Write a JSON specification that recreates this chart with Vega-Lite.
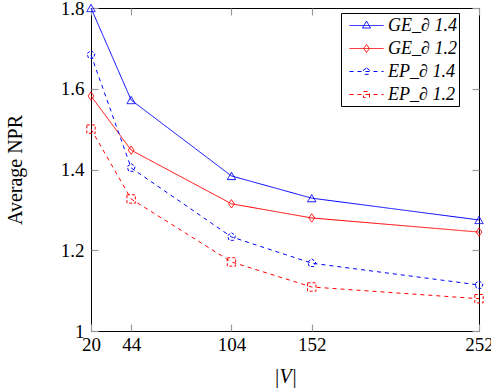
{
  "$schema": "https://vega.github.io/schema/vega-lite/v6.json",
  "width": 388,
  "height": 323,
  "autosize": {"type": "none"},
  "padding": {"left": 91, "top": 8, "right": 12, "bottom": 60},
  "background": "white",
  "config": {
    "view": {"stroke": "black", "strokeWidth": 1},
    "font": "Liberation Serif",
    "axis": {
      "grid": false,
      "domain": false,
      "tickColor": "#9a9a9a",
      "tickWidth": 1.2,
      "tickSize": -7,
      "labelFont": "Liberation Serif",
      "labelFontSize": 19,
      "labelColor": "black",
      "titleFont": "Liberation Serif",
      "titleFontSize": 20,
      "titleFontWeight": "normal",
      "titleColor": "black"
    }
  },
  "data": {
    "values": [
      {"V": 20, "npr": 1.8, "s": "GE_∂ 1.4"},
      {"V": 44, "npr": 1.572, "s": "GE_∂ 1.4"},
      {"V": 104, "npr": 1.384, "s": "GE_∂ 1.4"},
      {"V": 152, "npr": 1.329, "s": "GE_∂ 1.4"},
      {"V": 252, "npr": 1.275, "s": "GE_∂ 1.4"},
      {"V": 20, "npr": 1.582, "s": "GE_∂ 1.2"},
      {"V": 44, "npr": 1.448, "s": "GE_∂ 1.2"},
      {"V": 104, "npr": 1.315, "s": "GE_∂ 1.2"},
      {"V": 152, "npr": 1.28, "s": "GE_∂ 1.2"},
      {"V": 252, "npr": 1.245, "s": "GE_∂ 1.2"},
      {"V": 20, "npr": 1.684, "s": "EP_∂ 1.4"},
      {"V": 44, "npr": 1.404, "s": "EP_∂ 1.4"},
      {"V": 104, "npr": 1.233, "s": "EP_∂ 1.4"},
      {"V": 152, "npr": 1.168, "s": "EP_∂ 1.4"},
      {"V": 252, "npr": 1.114, "s": "EP_∂ 1.4"},
      {"V": 20, "npr": 1.5, "s": "EP_∂ 1.2"},
      {"V": 44, "npr": 1.327, "s": "EP_∂ 1.2"},
      {"V": 104, "npr": 1.171, "s": "EP_∂ 1.2"},
      {"V": 152, "npr": 1.109, "s": "EP_∂ 1.2"},
      {"V": 252, "npr": 1.08, "s": "EP_∂ 1.2"}
    ]
  },
  "layer": [
    {
      "mark": {"type": "line", "strokeWidth": 1},
      "encoding": {
        "x": {
          "field": "V", "type": "quantitative",
          "scale": {"domain": [20, 252], "nice": false, "zero": false},
          "axis": {"orient": "bottom", "values": [20, 44, 104, 152, 252], "title": "|V|", "titleFontStyle": "italic", "labelPadding": 11, "titlePadding": 12, "labelFlush": false}
        },
        "y": {
          "field": "npr", "type": "quantitative",
          "scale": {"domain": [1, 1.8], "nice": false, "zero": false},
          "axis": {"orient": "left", "values": [1, 1.2, 1.4, 1.6, 1.8], "format": "~g", "title": "Average NPR", "labelPadding": 14, "titlePadding": 35}
        },
        "color": {
          "field": "s", "type": "nominal",
          "scale": {"domain": ["GE_∂ 1.4", "GE_∂ 1.2", "EP_∂ 1.4", "EP_∂ 1.2"], "range": ["#0000ff", "#ff0000", "#0000ff", "#ff0000"]},
          "legend": {
            "title": null,
            "orient": "none",
            "legendX": 250,
            "legendY": 5,
            "padding": 2,
            "strokeColor": "black",
            "fillColor": "white",
            "symbolSize": 400,
            "symbolStrokeWidth": 1,
            "symbolOffset": 13,
            "labelOffset": 11,
            "rowPadding": 3,
            "labelFont": "Liberation Serif",
            "labelFontSize": 18,
            "labelFontStyle": "italic",
            "labelColor": "black",
            "labelLimit": 300,
            "labelExpr": "datum.label + '   '",
            "encode": {
              "symbols": {
                "update": {
                  "shape": {"signal": "datum.value === 'GE_∂ 1.4' ? 'M-1.7,0H1.7M0,-0.45L0.4,0.25L-0.4,0.25Z' : datum.value === 'GE_∂ 1.2' ? 'M-1.7,0H1.7M0,-0.4L0.28,0L0,0.4L-0.28,0Z' : datum.value === 'EP_∂ 1.4' ? 'M-1.7,0H1.7M0,-0.35L0.333,-0.108L0.206,0.283L-0.206,0.283L-0.333,-0.108Z' : 'M-1.7,0H1.7M-0.3,-0.3H0.3V0.3H-0.3Z'"},
                  "strokeDash": {"signal": "indexof(datum.value, 'EP') === 0 ? [4,4] : [1,0]"},
                  "fill": {"value": "transparent"}
                }
              }
            }
          }
        },
        "strokeDash": {
          "field": "s", "type": "nominal",
          "scale": {"domain": ["GE_∂ 1.4", "GE_∂ 1.2", "EP_∂ 1.4", "EP_∂ 1.2"], "range": [[1, 0], [1, 0], [4, 4], [4, 4]]},
          "legend": null
        }
      }
    },
    {
      "mark": {"type": "point", "filled": false, "strokeWidth": 1, "opacity": 1},
      "encoding": {
        "x": {"field": "V", "type": "quantitative", "axis": {"orient": "top", "values": [20, 44, 104, 152, 252], "labels": false, "title": null}},
        "y": {"field": "npr", "type": "quantitative", "axis": {"orient": "right", "values": [1, 1.2, 1.4, 1.6, 1.8], "labels": false, "title": null}},
        "color": {
          "field": "s", "type": "nominal",
          "scale": {"domain": ["GE_∂ 1.4", "GE_∂ 1.2", "EP_∂ 1.4", "EP_∂ 1.2"], "range": ["#0000ff", "#ff0000", "#0000ff", "#ff0000"]},
          "legend": null
        },
        "strokeDash": {
          "field": "s", "type": "nominal",
          "scale": {"domain": ["GE_∂ 1.4", "GE_∂ 1.2", "EP_∂ 1.4", "EP_∂ 1.2"], "range": [[1, 0], [1, 0], [3, 2], [3, 2]]},
          "legend": null
        },
        "shape": {
          "field": "s", "type": "nominal",
          "scale": {"domain": ["GE_∂ 1.4", "GE_∂ 1.2", "EP_∂ 1.4", "EP_∂ 1.2"], "range": ["triangle-up", "M0,-1L0.7,0L0,1L-0.7,0Z", "M0,-1L0.951,-0.309L0.588,0.809L-0.588,0.809L-0.951,-0.309Z", "square"]},
          "legend": null
        },
        "size": {"value": 70}
      }
    }
  ],
  "resolve": {
    "axis": {"x": "independent", "y": "independent"},
    "scale": {"color": "independent", "strokeDash": "independent", "shape": "independent"}
  }
}
